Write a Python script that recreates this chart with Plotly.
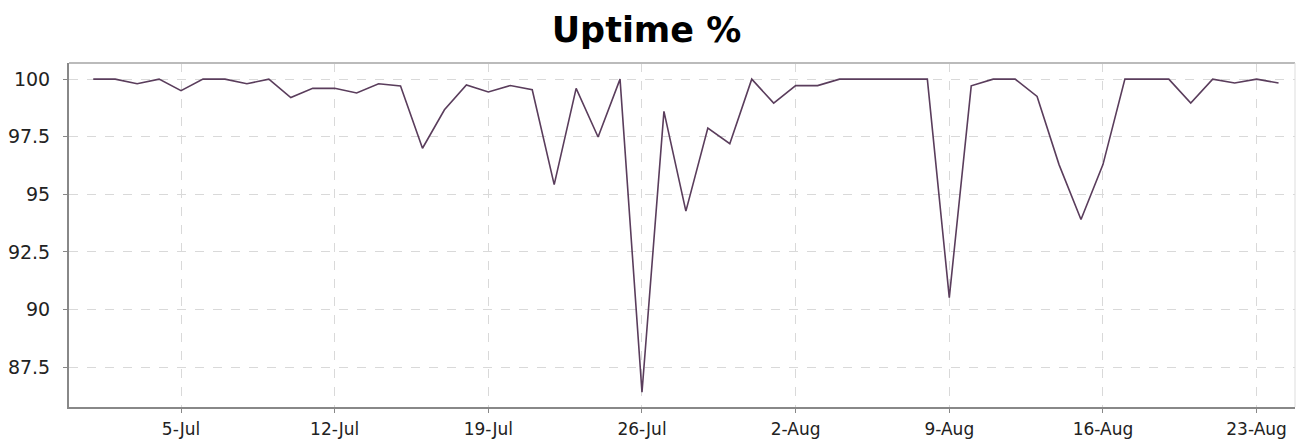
import plotly.graph_objects as go
import pandas as pd

start_date = "2021-07-01"
uptime = [100, 100, 99.8, 100, 99.5, 100, 100, 99.8, 100, 99.2,
          99.6, 99.6, 99.4, 99.8, 99.7, 97.0, 98.67, 99.75, 99.44, 99.72,
          99.54, 95.42, 99.6, 97.49, 100, 86.41, 98.6, 94.27, 97.88, 97.2,
          100, 98.96, 99.72, 99.72, 100, 100, 100, 100, 100, 90.52,
          99.71, 100, 100, 99.25, 96.29, 93.91, 96.29, 100, 100, 100,
          98.96, 100, 99.83, 100, 99.83]
dates = pd.date_range(start_date, periods=len(uptime), freq="D")

x_tick_dates = ["2021-07-05", "2021-07-12", "2021-07-19", "2021-07-26",
                "2021-08-02", "2021-08-09", "2021-08-16", "2021-08-23"]
x_tick_text = ["5-Jul", "12-Jul", "19-Jul", "26-Jul", "2-Aug", "9-Aug", "16-Aug", "23-Aug"]
y_tick_vals = [87.5, 90, 92.5, 95, 97.5, 100]
y_tick_text = ["87.5", "90", "92.5", "95", "97.5", "100"]

# the page body has an 8px default margin, so the figure is offset by 8px
fig = go.Figure()
fig.add_trace(go.Scatter(x=dates, y=uptime, mode="lines",
                         line=dict(color="#5a3d5c", width=1.6),
                         hoverinfo="x+y"))

fig.update_layout(
    width=1297, height=434,
    margin=dict(l=61, r=10, t=55, b=35),
    paper_bgcolor="white", plot_bgcolor="white",
    showlegend=False,
    title=dict(text="<b>Uptime %</b>", x=0.4923, xanchor="center", y=0.95, yanchor="middle",
               font=dict(family="DejaVu Sans", size=35, color="#000000")),
    font=dict(family="DejaVu Sans", size=19, color="#222222"),
    xaxis=dict(range=["2021-06-29 21:30", "2021-08-24 18:00"],
               tickvals=x_tick_dates, ticktext=x_tick_text,
               tickfont=dict(size=17),
               showgrid=True, gridcolor="#d9d9d9", griddash="dash", gridwidth=1,
               showline=True, linecolor="#888888", linewidth=2, mirror=False,
               ticks="outside", ticklen=4, tickcolor="#888888",
               ticklabelstandoff=2, automargin=False,
               zeroline=False),
    yaxis=dict(range=[85.77, 100.7],
               tickvals=y_tick_vals, ticktext=y_tick_text,
               showgrid=True, gridcolor="#d9d9d9", griddash="dash", gridwidth=1,
               showline=True, linecolor="#888888", linewidth=2,
               ticks="outside", ticklen=4, tickcolor="#888888",
               ticklabelstandoff=9, automargin=False,
               zeroline=False),
)
fig.add_shape(type="line", xref="paper", yref="paper", x0=0, x1=1, y0=1, y1=1,
              line=dict(color="#bbbbbb", width=2))
fig.add_shape(type="line", xref="paper", yref="paper", x0=1, x1=1, y0=0, y1=1,
              line=dict(color="#dddddd", width=1))

fig.write_html("out.html")
